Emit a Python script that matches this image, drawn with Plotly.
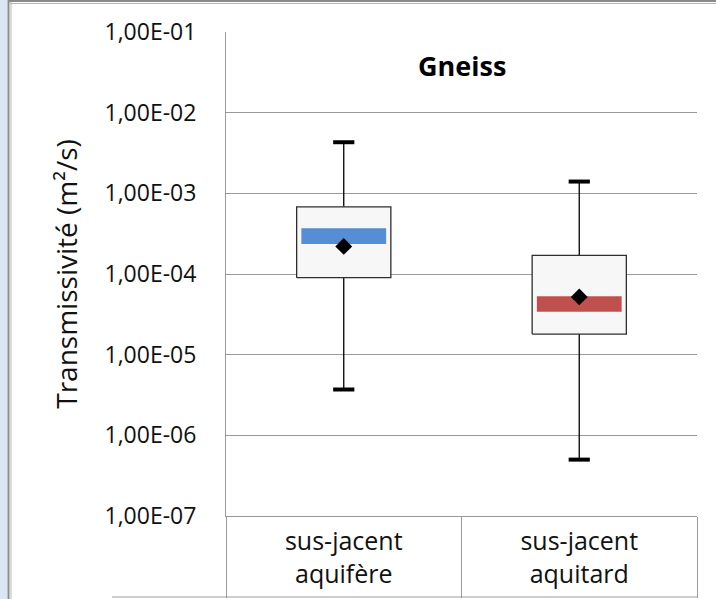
import plotly.graph_objects as go

# Transmissivity statistics (m²/s) for gneiss, by overlying unit
categories = ["sus-jacent<br>aquifère", "sus-jacent<br>aquitard"]
t_max = [4.3e-3, 1.4e-3]
t_q3 = [6.8e-4, 1.7e-4]
t_med_hi = [3.7e-4, 5.3e-5]
t_med_lo = [2.35e-4, 3.4e-5]
t_q1 = [9.0e-5, 1.8e-5]
t_min = [3.7e-6, 5.0e-7]
t_mean = [2.2e-4, 5.2e-5]
band_colors = ["#558ED5", "#C0504D"]

tick_vals = [1e-7, 1e-6, 1e-5, 1e-4, 1e-3, 1e-2, 1e-1]
tick_text = ["1,00E-07", "1,00E-06", "1,00E-05", "1,00E-04",
             "1,00E-03", "1,00E-02", "1,00E-01"]

FONT = "Open Sans"
W, H = 716, 599
ML, MR, MT, MB = 226, 19, 32, 83
PW, PH = W - ML - MR, H - MT - MB

BOX_HW = 0.2      # half width of the box (x units)
BAND_HW = 0.18    # half width of the coloured median band
CAP_HW = 0.045    # half width of the whisker caps

fig = go.Figure()

for i in range(len(categories)):
    c = i
    # whiskers
    for y0, y1 in ((t_q3[i], t_max[i]), (t_min[i], t_q1[i])):
        fig.add_trace(go.Scatter(x=[c, c], y=[y0, y1], mode="lines",
                                 line=dict(color="black", width=1.3),
                                 hoverinfo="skip", showlegend=False))
    # caps
    for v in (t_max[i], t_min[i]):
        fig.add_trace(go.Scatter(x=[c - CAP_HW, c + CAP_HW], y=[v, v], mode="lines",
                                 line=dict(color="black", width=4),
                                 hoverinfo="skip", showlegend=False))
    # box
    fig.add_trace(go.Scatter(
        x=[c - BOX_HW, c + BOX_HW, c + BOX_HW, c - BOX_HW, c - BOX_HW],
        y=[t_q1[i], t_q1[i], t_q3[i], t_q3[i], t_q1[i]],
        mode="lines", fill="toself", fillcolor="#F7F7F7",
        line=dict(color="#2e2e2e", width=1.3),
        hoverinfo="skip", showlegend=False))
    # median band
    fig.add_trace(go.Scatter(
        x=[c - BAND_HW, c + BAND_HW, c + BAND_HW, c - BAND_HW, c - BAND_HW],
        y=[t_med_lo[i], t_med_lo[i], t_med_hi[i], t_med_hi[i], t_med_lo[i]],
        mode="lines", fill="toself", fillcolor=band_colors[i],
        line=dict(width=0), hoverinfo="skip", showlegend=False))
    # mean
    fig.add_trace(go.Scatter(x=[c], y=[t_mean[i]], mode="markers",
                             marker=dict(symbol="diamond", size=13, color="black"),
                             showlegend=False))

GRID = "#9a9a9a"


def px_x(p):
    return (p - ML) / PW


def px_y(p):
    return (H - MB - p) / PH


shapes = [
    # left strip of the window frame
    dict(type="rect", xref="paper", yref="paper", x0=px_x(0), x1=px_x(7.5),
         y0=px_y(H), y1=px_y(0), fillcolor="#dbe6f5", line=dict(width=0), layer="below"),
    dict(type="line", xref="paper", yref="paper", x0=px_x(8.5), x1=px_x(8.5),
         y0=px_y(H), y1=px_y(0), line=dict(color="#8a8a8a", width=2)),
    dict(type="line", xref="paper", yref="paper", x0=px_x(11), x1=px_x(11),
         y0=px_y(H), y1=px_y(2), line=dict(color="#b5b5b5", width=1)),
    dict(type="line", xref="paper", yref="paper", x0=px_x(8), x1=px_x(W),
         y0=px_y(1), y1=px_y(1), line=dict(color="#8a8a8a", width=2)),
    dict(type="line", xref="paper", yref="paper", x0=px_x(10), x1=px_x(W),
         y0=px_y(3.5), y1=px_y(3.5), line=dict(color="#b5b5b5", width=1)),
    # bottom rule of the category table
    dict(type="line", xref="paper", yref="paper", x0=px_x(112), x1=1,
         y0=px_y(597), y1=px_y(597), line=dict(color=GRID, width=1)),
]

fig.update_layout(
    width=W, height=H,
    margin=dict(l=ML, r=MR, t=MT, b=MB, autoexpand=False),
    paper_bgcolor="white", plot_bgcolor="white",
    font=dict(family=FONT, color="#111111"),
    shapes=shapes,
    annotations=[dict(text="<b>Gneiss</b>", xref="paper", yref="paper",
                      x=0.5, y=px_y(65), xanchor="center", yanchor="middle",
                      showarrow=False, font=dict(size=27, family=FONT, color="black"))],
)

fig.update_xaxes(
    automargin=False,
    range=[-0.5, 1.5], tickmode="array", tickvals=[0, 1], ticktext=categories,
    ticks="", ticklabelstandoff=3,
    tickfont=dict(size=25, family=FONT, color="#111111"),
    showgrid=False, zeroline=False,
    showline=True, linecolor=GRID, linewidth=1, mirror=False,
    minor=dict(tick0=-0.5, dtick=1, ticks="outside", ticklen=81,
               tickcolor=GRID, tickwidth=1, showgrid=False),
)

fig.update_yaxes(
    automargin=False,
    type="log", range=[-7, -1], tickmode="array",
    tickvals=tick_vals, ticktext=tick_text,
    ticks="", ticklabelstandoff=24,
    tickfont=dict(size=23, family=FONT, color="#111111"),
    showgrid=True, gridcolor=GRID, gridwidth=1,
    zeroline=False, showline=True, linecolor=GRID, linewidth=1,
    title=dict(text="Transmissivité (m²/s)", standoff=18,
               font=dict(size=28, family=FONT, color="#111111")),
)

fig.write_html("out.html")
